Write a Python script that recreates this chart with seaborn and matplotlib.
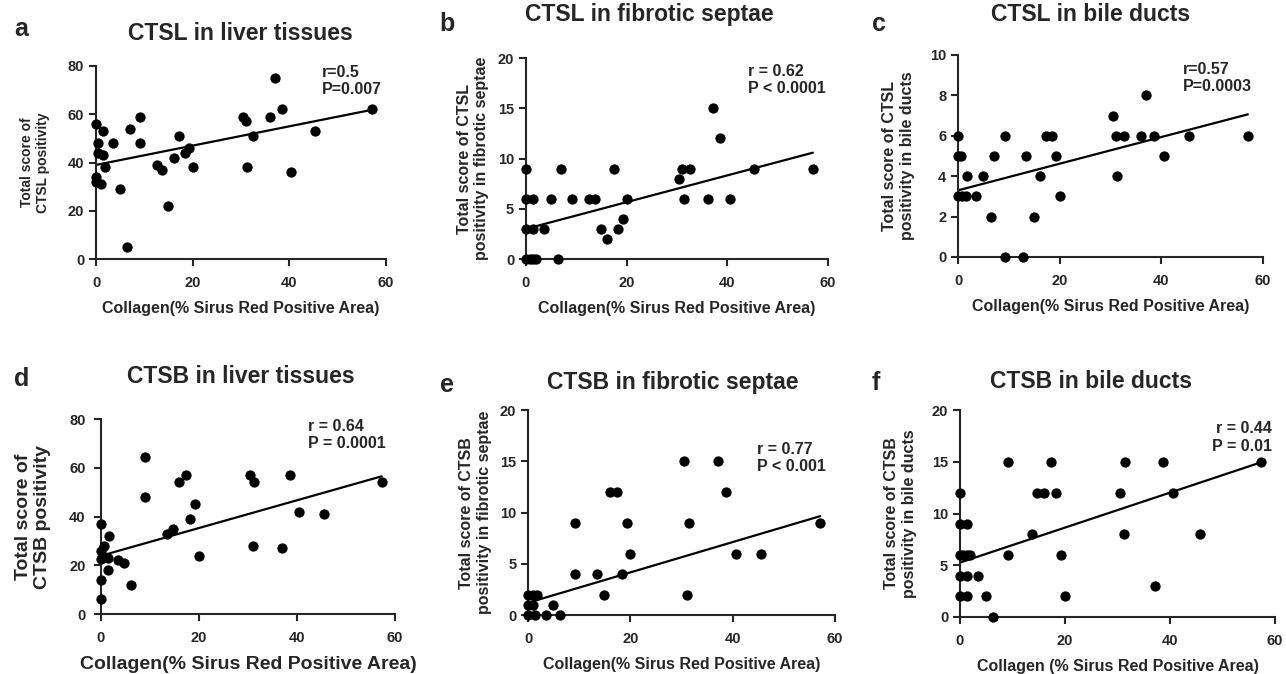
import numpy as np
import pandas as pd
import matplotlib
matplotlib.use("Agg")
import matplotlib.pyplot as plt
import seaborn as sns

sns.set_style("ticks")
plt.rcParams['font.family'] = ['Liberation Sans', 'DejaVu Sans']
plt.rcParams['font.weight'] = 'bold'

# data (x = collagen %, y = score)
a_x = [0, 0.3, 0.3, 0, 0, 1, 1.4, 1.4, 1.9, 3.6, 5, 7, 6.3, 9.1, 9.1, 12.7, 13.6, 14.9, 16.1,
       17.2, 18.3, 19.3, 20.1, 30.5, 31, 31.3, 32.4, 36, 37, 38.5, 40.3, 45.4, 57]
a_y = [56, 48, 44, 34, 32, 31, 53, 43, 38, 48, 29, 54, 5, 59, 48, 39, 37, 22, 42,
       51, 44, 46, 38, 59, 57, 38, 51, 59, 75, 62, 36, 53, 62]

b_x = [0, 0, 1.4, 0, 1.4, 0, 0.8, 1.4, 2, 3.6, 5, 6.4, 7, 9.1, 12.6, 13.7, 15, 16.1, 17.4,
       18.3, 19.3, 20, 30.5, 31, 31.4, 32.6, 36.2, 37.1, 38.5, 40.5, 45.4, 57]
b_y = [9, 6, 6, 3, 3, 0, 0, 0, 0, 3, 6, 0, 9, 6, 6, 6, 3, 2, 9,
       3, 4, 6, 8, 9, 6, 9, 6, 15, 12, 6, 9, 9]

c_x = [0, 0, 0.5, 0, 0.7, 1.5, 1.8, 3.6, 4.9, 6.4, 7, 9.2, 9.2, 12.8, 13.4, 15, 16.1, 17.2,
       18.4, 19.2, 20, 30.5, 31, 31.3, 32.6, 36, 37, 38.5, 40.5, 45.4, 57]
c_y = [6, 5, 5, 3, 3, 3, 4, 3, 4, 2, 5, 6, 0, 0, 5, 2, 4, 6,
       6, 5, 3, 7, 6, 4, 6, 6, 8, 6, 5, 6, 6]

d_x = [0, 0, 0, 0, 0.1, 0.7, 1.4, 1.4, 1.6, 3.4, 4.8, 6.2, 9, 9, 13.5, 14.8, 16, 17.3,
       18.2, 19.2, 20, 30.4, 31.3, 31, 37, 38.5, 40.5, 45.6, 57.3]
d_y = [37, 26, 22.7, 14, 6, 28, 23, 18, 32, 22, 21, 12, 64.5, 48, 33, 35, 54, 57,
       39, 45, 24, 57, 54, 28, 27, 57, 42, 41, 54]

e_x = [0, 1, 1.8, 0, 1, 0, 1.3, 3.6, 4.9, 6.3, 9.2, 9.2, 13.5, 14.9, 16, 17.4, 18.3, 19.3,
       20, 30.5, 31.1, 31.4, 37.2, 38.6, 40.6, 45.5, 57.1]
e_y = [2, 2, 2, 1, 1, 0, 0, 0, 1, 0, 9, 4, 4, 2, 12, 12, 4, 9,
       6, 15, 2, 9, 15, 12, 6, 6, 9]

f_x = [0, 0, 1.4, 0, 0.6, 1.4, 1.9, 0, 1.4, 0, 1.4, 3.5, 5, 6.3, 9.1, 9.1, 13.7, 14.7, 16,
       17.3, 18.3, 19.2, 20, 30.5, 31.2, 31.5, 37.1, 38.7, 40.6, 45.7, 57.3]
f_y = [12, 9, 9, 6, 6, 6, 6, 4, 4, 2, 2, 4, 2, 0, 15, 6, 8, 12, 12,
       15, 12, 6, 2, 12, 8, 15, 3, 15, 12, 8, 15]

# fitted lines as drawn in the reference (intercept, slope)
fit_intercept = [39.0, 3.0, 3.3, 23.9, 1.2, 5.26]
fit_slope = [0.40, 0.133, 0.066, 0.569, 0.148, 0.169]

titles = ['CTSL in liver tissues', 'CTSL in fibrotic septae', 'CTSL in bile ducts',
          'CTSB in liver tissues', 'CTSB in fibrotic septae', 'CTSB in bile ducts']
ylabels = ['Total score of\nCTSL positivity',
           'Total score of CTSL\npositivity in fibrotic septae',
           'Total score of CTSL\npositivity in bile ducts',
           'Total score of\nCTSB positivity',
           'Total score of CTSB\npositivity in fibrotic septae',
           'Total score of CTSB\npositivity in bile ducts']
xlabels = ['Collagen(% Sirus Red Positive Area)'] * 5 + ['Collagen (% Sirus Red Positive Area)']
stats = ['r=0.5\nP=0.007', 'r = 0.62\nP < 0.0001', 'r=0.57\nP=0.0003',
         'r = 0.64\nP = 0.0001', 'r = 0.77\nP < 0.001', 'r = 0.44\nP = 0.01']
letters = ['a', 'b', 'c', 'd', 'e', 'f']
ymax = [80, 20, 10, 80, 20, 20]
ystep = [20, 5, 2, 20, 5, 5]

datasets = [(a_x, a_y), (b_x, b_y), (c_x, c_y), (d_x, d_y), (e_x, e_y), (f_x, f_y)]

# axes boxes in figure fractions
boxes = [[0.0747, 0.6157, 0.2255, 0.2864],
         [0.409, 0.6157, 0.2348, 0.2982],
         [0.745, 0.6187, 0.2372, 0.2997],
         [0.0785, 0.089, 0.2286, 0.2893],
         [0.4106, 0.0875, 0.2387, 0.304],
         [0.7465, 0.0846, 0.245, 0.307]]
stat_pos = [(0.78, 1.005, 'left'), (0.735, 0.97, 'left'), (0.738, 0.965, 'left'),
            (0.705, 1.0, 'left'), (0.746, 0.845, 'left'), (0.99, 0.945, 'right')]
letter_pos = [(0.011, 0.975), (0.342, 0.982), (0.678, 0.982),
              (0.011, 0.456), (0.342, 0.446), (0.678, 0.45)]
title_y = [0.968, 0.995, 0.995, 0.458, 0.449, 0.451]
title_x = [0.187, 0.505, 0.848, 0.187, 0.523, 0.848]
ylab_size = [10, 11.5, 11.5, 14, 11.5, 11.5]
xlab_size = [11.5, 11.5, 11.5, 14, 11.5, 11.5]
ylab_pad = [13, 6, 11, 13, 6, 11]

fig = plt.figure(figsize=(12.86, 6.74), dpi=100)

for i in range(6):
    ax = fig.add_axes(boxes[i])
    df = pd.DataFrame({'x': datasets[i][0], 'y': datasets[i][1]})
    sns.scatterplot(data=df, x='x', y='y', ax=ax, color='black', s=55,
                    linewidth=0, clip_on=False, zorder=3)
    xs = np.array([0, df['x'].max()])
    ax.plot(xs, fit_intercept[i] + fit_slope[i] * xs, color='black', lw=1.6)
    ax.set_xlim(0, 60)
    ax.set_ylim(0, ymax[i])
    ax.set_xticks([0, 20, 40, 60])
    ax.set_yticks(np.arange(0, ymax[i] + 0.1, ystep[i]))
    sns.despine(ax=ax)
    for s in ['left', 'bottom']:
        ax.spines[s].set_linewidth(1.5)
    ax.tick_params(direction='out', length=5, width=1.5, labelsize=10.5)
    ax.tick_params(axis='x', pad=7)
    if i == 3:
        ax.tick_params(axis='y', pad=6)
    for lab in ax.get_xticklabels() + ax.get_yticklabels():
        lab.set_fontweight('bold')
    ax.set_xlabel(xlabels[i], fontsize=xlab_size[i], fontweight='bold', labelpad=8)
    ax.set_ylabel(ylabels[i], fontsize=ylab_size[i], fontweight='bold', labelpad=ylab_pad[i])
    sx, sy, ha = stat_pos[i]
    ax.text(sx, sy, stats[i], transform=ax.transAxes, ha=ha, va='top',
            fontsize=11.5, fontweight='bold', linespacing=1.2)
    fig.text(title_x[i], title_y[i], titles[i], ha='center', va='top',
             fontsize=16.5, fontweight='bold')
    fig.text(letter_pos[i][0], letter_pos[i][1], letters[i], ha='left', va='top',
             fontsize=18, fontweight='bold')

fig.savefig('out.png', dpi=100, facecolor='white')
